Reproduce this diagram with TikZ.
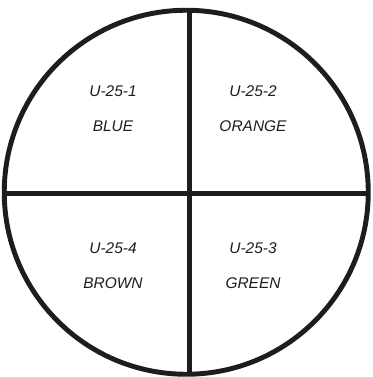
\documentclass[tikz,border=0pt]{standalone}
\usepackage{fontspec}
\newfontfamily\tagfont{Liberation Sans}
\definecolor{ink}{RGB}{28, 30, 28}
\usepackage{tikz}
\usetikzlibrary{positioning, calc}

\begin{document}
\begin{tikzpicture}[
  tag/.style={font=\tagfont\itshape\fontsize{8.8}{10}\selectfont, text=ink, inner sep=1pt},
  rim/.style={draw=ink, line width=2.8pt}
]
  \useasboundingbox (0, 0) rectangle (7.44, -7.54);

  % Circle
  \node[rim, circle, minimum size=7.28cm, inner sep=0pt] (disc) at (3.725, -3.845) {};

  % Dividers
  \coordinate (top) at (3.79, -0.206);
  \coordinate (bot) at (3.79, -7.484);
  \coordinate (lft) at (0.085, -3.87);
  \coordinate (rgt) at (7.365, -3.87);
  \draw[rim] (top) -- (bot);
  \draw[rim] (lft) -- (rgt);

  % Quadrant labels
  \node[tag] (q1) at (2.26, -1.82) {U-25-1};
  \node[tag, below=0.7cm of q1.center, anchor=center] (c1) {BLUE};
  \node[tag] (q2) at (5.06, -1.82) {U-25-2};
  \node[tag, below=0.7cm of q2.center, anchor=center] (c2) {ORANGE};
  \node[tag] (q4) at (2.26, -4.96) {U-25-4};
  \node[tag, below=0.7cm of q4.center, anchor=center] (c4) {BROWN};
  \node[tag] (q3) at (5.06, -4.96) {U-25-3};
  \node[tag, below=0.7cm of q3.center, anchor=center] (c3) {GREEN};
\end{tikzpicture}
\end{document}
